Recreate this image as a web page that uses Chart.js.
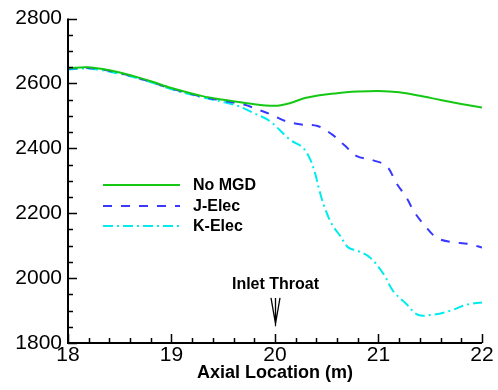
<!DOCTYPE html>
<html lang="en">
<head>
  <meta charset="UTF-8" />
  <title>Axial Location</title>
  <script src="https://cdn.jsdelivr.net/npm/chart.js"></script>
  <style>
    html, body { margin: 0; padding: 0; background: #fff; }
    #wrap { width: 498px; height: 390px; }
  </style>
</head>
<body>
  <div id="wrap"><canvas id="chart" width="498" height="390"></canvas></div>
  <script>
    // series names
    const seriesNames = ['No MGD', 'J-Elec', 'K-Elec'];

    // No MGD
    const noMgdX = [18, 18.2, 18.5, 18.8, 19, 19.3, 19.5, 19.75, 20, 20.15, 20.3, 20.6, 20.8, 21, 21.2, 21.4, 21.6, 21.8, 22];
    const noMgdY = [2647, 2650, 2634, 2607, 2586, 2561, 2550, 2538, 2531, 2540, 2556, 2570, 2575, 2577, 2573, 2562, 2549, 2537, 2526];

    // J-Elec
    const jElecX = [18, 18.2, 18.5, 18.8, 19, 19.3, 19.5, 19.7, 19.85, 19.95, 20.1, 20.24, 20.41, 20.55, 20.68, 20.79, 20.95, 21.08, 21.17, 21.27, 21.35, 21.45, 21.56, 21.69, 21.88, 22];
    const jElecY = [2645, 2648, 2632, 2605, 2584, 2559, 2547, 2535, 2518, 2506, 2484, 2474, 2469, 2443, 2407, 2376, 2363, 2345, 2294, 2248, 2202, 2161, 2125, 2112, 2105, 2094];

    // K-Elec
    const kElecX = [18, 18.2, 18.5, 18.8, 19, 19.3, 19.5, 19.65, 19.8, 19.95, 20.14, 20.27, 20.34, 20.39, 20.43, 20.48, 20.55, 20.63, 20.71, 20.8, 20.92, 21.05, 21.14, 21.27, 21.38, 21.52, 21.69, 21.85, 22];
    const kElecY = [2643, 2646, 2630, 2604, 2582, 2557, 2543, 2530, 2508, 2484, 2428, 2402, 2366, 2320, 2269, 2217, 2166, 2130, 2094, 2084, 2063, 2012, 1961, 1920, 1887, 1887, 1899, 1918, 1925];

    const xTicks = [18, 19, 20, 21, 22];
    const yTicks = [1800, 2000, 2200, 2400, 2600, 2800];

    const throatX = 20;
    const throatLabel = 'Inlet Throat';

    const toPts = (xs, ys) => xs.map((x, i) => ({ x: x, y: ys[i] }));
    const FONT = '"Liberation Sans", Arial, sans-serif';

    // axis lines, inward ticks, legend and the throat arrow
    const decor = {
      id: 'decor',
      afterDraw(chart) {
        const ctx = chart.ctx;
        const xs = chart.scales.x, ys = chart.scales.y;
        const a = chart.chartArea;
        ctx.save();
        ctx.strokeStyle = '#000';
        ctx.lineWidth = 2;
        ctx.beginPath();
        ctx.moveTo(a.left, a.top);
        ctx.lineTo(a.left, a.bottom);
        ctx.lineTo(a.right, a.bottom);
        ctx.stroke();

        ctx.lineWidth = 1.5;
        ctx.beginPath();
        for (let v = xTicks[0]; v <= xTicks[xTicks.length - 1] + 1e-6; v += 0.2) {
          const major = Math.abs(v - Math.round(v)) < 1e-6;
          const px = Math.round(xs.getPixelForValue(v)) + 0.5;
          ctx.moveTo(px, a.bottom);
          ctx.lineTo(px, a.bottom - (major ? 9 : 5));
        }
        for (let v = yTicks[0]; v <= yTicks[yTicks.length - 1]; v += 50) {
          const major = v % 200 === 0;
          const py = Math.round(ys.getPixelForValue(v)) + 0.5;
          ctx.moveTo(a.left, py);
          ctx.lineTo(a.left + (major ? 9 : 5), py);
        }
        ctx.stroke();

        // legend
        const lx0 = 103, lx1 = 180, tx = 193;
        const rows = [185, 206, 226];
        chart.data.datasets.forEach((ds, i) => {
          ctx.strokeStyle = ds.borderColor;
          ctx.lineWidth = ds.borderWidth;
          ctx.setLineDash(ds.borderDash || []);
          ctx.beginPath();
          ctx.moveTo(lx0, rows[i]);
          ctx.lineTo(lx1, rows[i]);
          ctx.stroke();
          ctx.setLineDash([]);
          ctx.fillStyle = '#000';
          ctx.font = 'bold 16px ' + FONT;
          ctx.textAlign = 'left';
          ctx.textBaseline = 'middle';
          ctx.fillText(ds.label, tx, rows[i] + 1);
        });

        // Inlet Throat annotation
        const ax = Math.round(xs.getPixelForValue(throatX)) + 0.5;
        ctx.fillStyle = '#000';
        ctx.font = 'bold 16px ' + FONT;
        ctx.textAlign = 'center';
        ctx.textBaseline = 'middle';
        ctx.fillText(throatLabel, ax, ys.getPixelForValue(1980));
        const top = ys.getPixelForValue(1939), bot = ys.getPixelForValue(1853);
        ctx.strokeStyle = '#000';
        ctx.lineWidth = 1.3;
        ctx.beginPath();
        ctx.moveTo(ax, top);
        ctx.lineTo(ax, bot);
        ctx.moveTo(ax - 4.5, top);
        ctx.lineTo(ax, bot - 2);
        ctx.lineTo(ax + 4.5, top);
        ctx.stroke();
        ctx.restore();
      }
    };

    new Chart(document.getElementById('chart'), {
      type: 'line',
      data: {
        datasets: [
          { label: seriesNames[0], data: toPts(noMgdX, noMgdY), borderColor: '#14c814', borderWidth: 2 },
          { label: seriesNames[1], data: toPts(jElecX, jElecY), borderColor: '#3838ff', borderWidth: 2, borderDash: [9, 9] },
          { label: seriesNames[2], data: toPts(kElecX, kElecY), borderColor: '#00ecec', borderWidth: 2, borderDash: [10, 4, 2, 4] }
        ]
      },
      options: {
        responsive: false,
        animation: false,
        devicePixelRatio: 1,
        elements: { point: { radius: 0 }, line: { tension: 0.35, fill: false } },
        layout: { padding: { left: 0, top: 16, right: 16, bottom: 0 } },
        plugins: { legend: { display: false }, tooltip: { enabled: false } },
        scales: {
          x: {
            type: 'linear',
            min: xTicks[0],
            max: xTicks[xTicks.length - 1],
            grid: { display: false, drawTicks: false },
            border: { display: false },
            afterBuildTicks: s => { s.ticks = xTicks.map(v => ({ value: v })); },
            ticks: { color: '#000', padding: 0, font: { family: FONT, size: 21 }, callback: v => String(v) },
            title: { display: true, text: 'Axial Location (m)', color: '#000', padding: { top: 0, bottom: 6 }, font: { family: FONT, size: 18, weight: 'bold' } },
            afterFit: s => { s.height = 47; }
          },
          y: {
            min: yTicks[0],
            max: yTicks[yTicks.length - 1],
            grid: { display: false, drawTicks: false },
            border: { display: false },
            afterBuildTicks: s => { s.ticks = yTicks.map(v => ({ value: v })); },
            ticks: { color: '#000', padding: 6, font: { family: FONT, size: 21 }, callback: v => String(v) },
            afterFit: s => { s.width = 68; }
          }
        }
      },
      plugins: [decor]
    });
  </script>
</body>
</html>
